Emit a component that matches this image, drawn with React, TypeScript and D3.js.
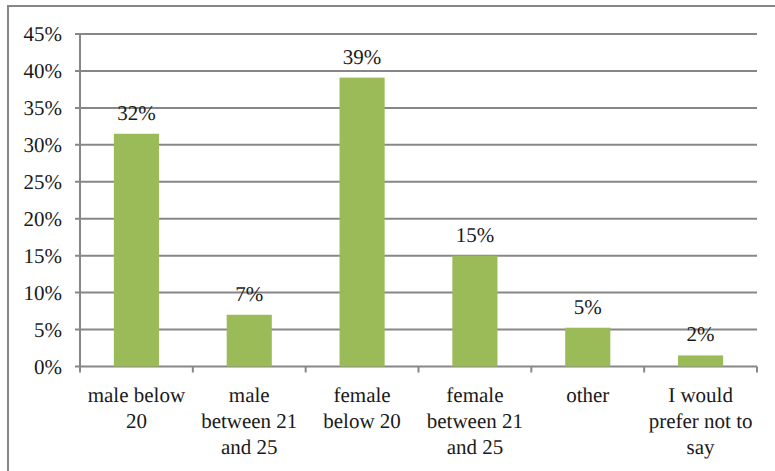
import React from 'react';
import * as d3 from 'd3';

const categories = [
  'male below 20',
  'male between 21 and 25',
  'female below 20',
  'female between 21 and 25',
  'other',
  'I would prefer not to say',
];
const categoryLines = [
  ['male below', '20'],
  ['male', 'between 21', 'and 25'],
  ['female', 'below 20'],
  ['female', 'between 21', 'and 25'],
  ['other'],
  ['I would', 'prefer not to', 'say'],
];
const shares = [0.315, 0.07, 0.391, 0.15, 0.0525, 0.015];
const valueLabels = ['32%', '7%', '39%', '15%', '5%', '2%'];
const yTicks = [0, 0.05, 0.1, 0.15, 0.2, 0.25, 0.3, 0.35, 0.4, 0.45];

const left = 80;
const right = 757;
const top = 34;
const bottom = 366.5;
const gridColor = '#878787';
const textStyle = { fontFamily: 'Liberation Serif', fontSize: 21, textRendering: 'geometricPrecision' as const };

const App = () => {
  const x = d3.scaleBand().domain(categories).range([left, right]).padding(0);
  const y = d3.scaleLinear().domain([0, 0.45]).range([bottom, top]);
  const barW = x.bandwidth() * 0.4;
  const cx = (c: string) => (x(c) as number) + x.bandwidth() / 2;
  const xTicks = categories.map((c) => x(c) as number).concat([right]);

  return (
    <svg width={775} height={471} style={{ position: 'absolute', left: 0, top: 0, background: 'white' }}>
      {/* outer frame */}
      <rect x={8} y={6} width={820} height={520} fill="white" stroke={gridColor} strokeWidth={2} />

      {/* gridlines */}
      {yTicks.map((t) => (
        <line key={t} x1={left - 5} x2={right} y1={y(t)} y2={y(t)} stroke={gridColor} strokeWidth={2} />
      ))}
      <line x1={left} x2={left} y1={top} y2={bottom + 5} stroke={gridColor} strokeWidth={2} />
      {xTicks.map((t) => (
        <line key={t} x1={t} x2={t} y1={bottom} y2={bottom + 6} stroke={gridColor} strokeWidth={2} />
      ))}

      {/* y tick labels */}
      {yTicks.map((t) => (
        <text key={t} x={62} y={y(t) + 7} textAnchor="end" fill="#1a1a1a" style={textStyle}>
          {`${Math.round(t * 100)}%`}
        </text>
      ))}

      {/* bars and value labels */}
      {shares.map((v, i) => (
        <g key={categories[i]}>
          <rect x={cx(categories[i]) - barW / 2} width={barW} y={y(v)} height={bottom - y(v)} fill="#9BBB59" />
          <text x={cx(categories[i])} y={y(v) - 14} textAnchor="middle" fill="#1a1a1a" style={textStyle}>
            {valueLabels[i]}
          </text>
        </g>
      ))}

      {/* category labels */}
      {categoryLines.map((lines, i) => (
        <text key={categories[i]} x={cx(categories[i])} y={402} textAnchor="middle" fill="#1a1a1a" style={textStyle}>
          {lines.map((l, j) => (
            <tspan key={j} x={cx(categories[i])} dy={j === 0 ? 0 : 26}>
              {l}
            </tspan>
          ))}
        </text>
      ))}
    </svg>
  );
};

export default App;
